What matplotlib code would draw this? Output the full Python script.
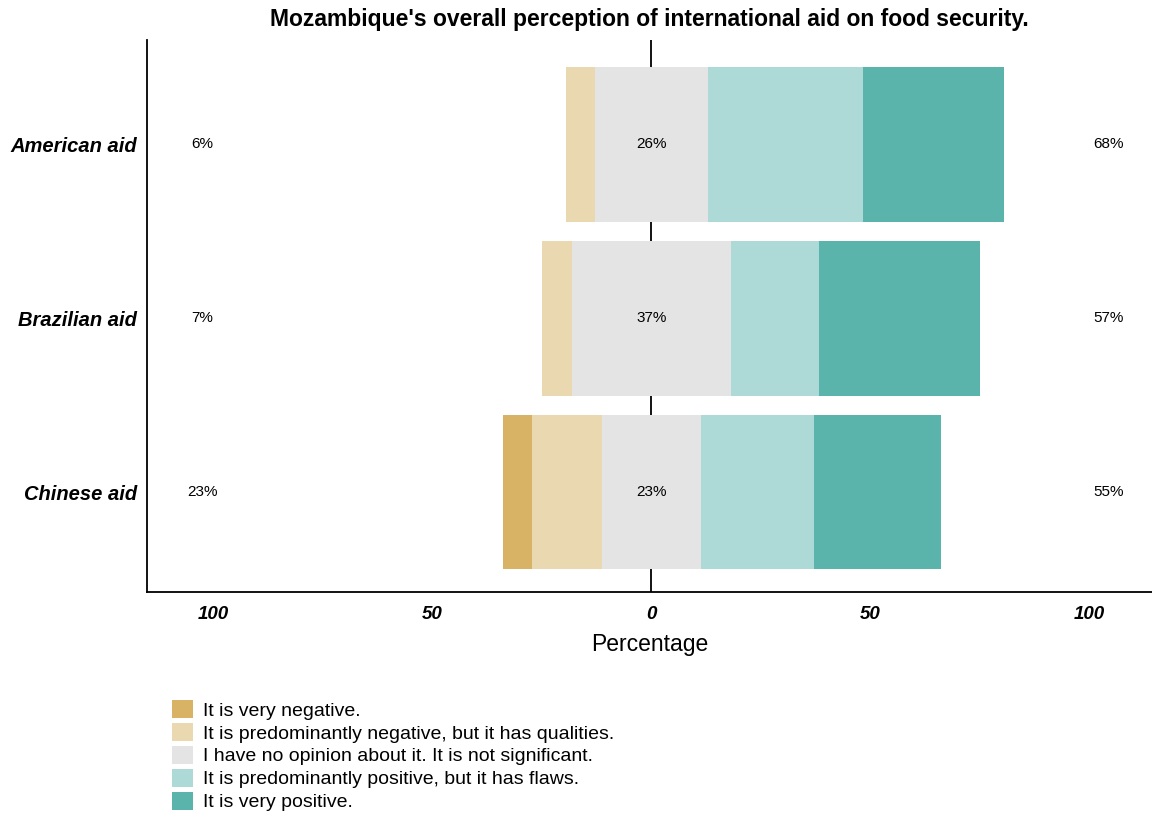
import numpy as np
import matplotlib.pyplot as plt
from matplotlib.patches import Patch

plt.rcParams['font.family'] = ['Liberation Sans', 'DejaVu Sans']

groups = ["Chinese aid", "Brazilian aid", "American aid"]
levels = ["It is very negative.",
          "It is predominantly negative, but it has qualities.",
          "I have no opinion about it. It is not significant.",
          "It is predominantly positive, but it has flaws.",
          "It is very positive."]
# percentages per level, one row per group (same order as groups)
very_neg = [6.6, 0, 0]
pred_neg = [16.0, 6.8, 6.6]
neutral = [22.4, 36.3, 25.6]
pred_pos = [25.8, 20.1, 35.4]
very_pos = [29.0, 36.8, 32.2]
low_lbl = ["23%", "7%", "6%"]
mid_lbl = ["23%", "37%", "26%"]
high_lbl = ["55%", "57%", "68%"]
colors = ["#D8B365", "#EAD8B0", "#E4E4E4", "#ADD9D6", "#5AB4AC"]

fig = plt.figure(figsize=(11.52, 8.17), dpi=100)
ax = fig.add_axes([0.128, 0.2754, 0.872, 0.6756])

y = np.arange(len(groups))
vn, pn, nu, pp, vp = (np.array(a, float) for a in (very_neg, pred_neg, neutral, pred_pos, very_pos))
h = 0.89
ax.axvline(0, color="black", lw=1.3, zorder=0)
left = -nu / 2 - pn - vn
for vals, c in zip([vn, pn, nu, pp, vp], colors):
    ax.barh(y, vals, left=left, height=h, color=c, zorder=2)
    left = left + vals

for i in range(len(groups)):
    ax.text(-102.5, y[i], low_lbl[i], ha="center", va="center", fontsize=11)
    ax.text(0, y[i], mid_lbl[i], ha="center", va="center", fontsize=11, zorder=3)
    ax.text(104.3, y[i], high_lbl[i], ha="center", va="center", fontsize=11)

ax.set_xlim(-115, 114.2)
ax.set_ylim(-0.575, 2.6)
ax.set_yticks(y)
ax.set_yticklabels(groups, fontsize=14.5, fontweight="bold", fontstyle="italic")
ticks = [-100, -50, 0, 50, 100]
ax.set_xticks(ticks)
ax.set_xticklabels([str(abs(t)) for t in ticks], fontsize=13.5, fontweight="bold", fontstyle="italic")
ax.tick_params(axis="x", length=0, pad=10)
ax.tick_params(axis="y", length=0, pad=7.5)
ax.set_xlabel("Percentage", fontsize=16.5, labelpad=7)
ax.set_title("Mozambique's overall perception of international aid on food security.",
             fontsize=16.5, fontweight="bold", pad=10)
for s in ["top", "right"]:
    ax.spines[s].set_visible(False)
for s in ["left", "bottom"]:
    ax.spines[s].set_linewidth(1.3)

handles = [Patch(facecolor=c, edgecolor="none") for c in colors]
fig.legend(handles, levels, loc="upper left", bbox_to_anchor=(0.1493, 0.1435),
           frameon=False, fontsize=14, handlelength=1.08, handleheight=1.08,
           labelspacing=0.16, handletextpad=0.5, borderaxespad=0, borderpad=0)

fig.savefig("out.png", dpi=100)
